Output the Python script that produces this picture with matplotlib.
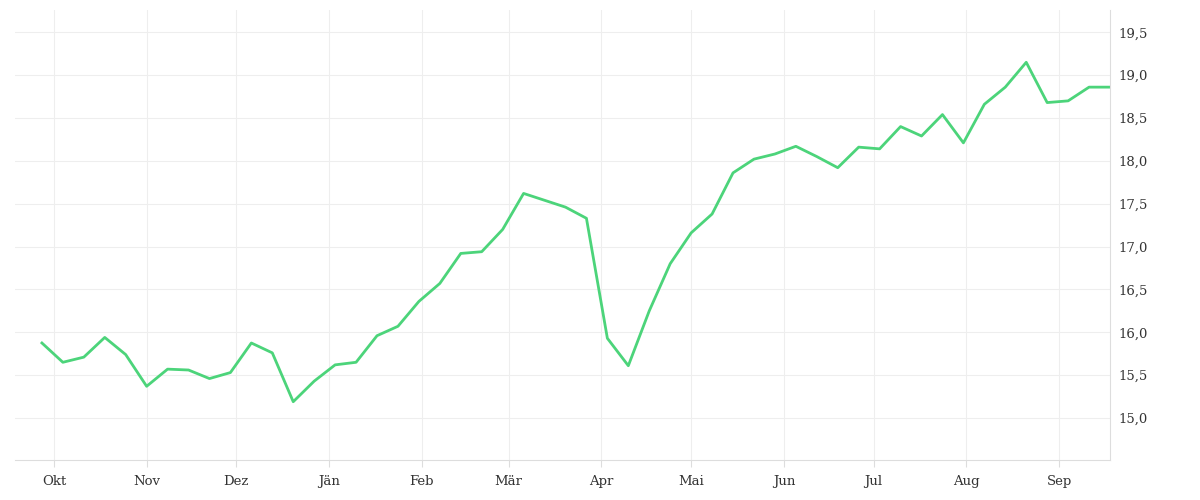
import pandas as pd
import matplotlib.pyplot as plt
import matplotlib.dates as mdates
import matplotlib.ticker as mticker

values = [15.875, 15.65, 15.71, 15.94, 15.74, 15.37, 15.57, 15.56, 15.46, 15.53,
          15.875, 15.76, 15.19, 15.43, 15.62, 15.65, 15.96, 16.07, 16.36, 16.57,
          16.92, 16.94, 17.20, 17.62, 17.54, 17.46, 17.33, 15.93, 15.61, 16.25,
          16.80, 17.16, 17.38, 17.86, 18.02, 18.08, 18.17, 18.05, 17.92, 18.16,
          18.14, 18.40, 18.29, 18.54, 18.21, 18.66, 18.86, 19.15, 18.68, 18.70,
          18.86, 18.86]
dates = pd.date_range("2023-09-27", periods=len(values), freq="7D")
month_labels = ["Okt", "Nov", "Dez", "Jän", "Feb", "Mär", "Apr", "Mai", "Jun", "Jul", "Aug", "Sep"]
month_ticks = pd.date_range("2023-10-01", periods=12, freq="MS")

plt.rcParams['font.family'] = ['DejaVu Serif']
fig, ax = plt.subplots(figsize=(12, 5), dpi=100)
fig.subplots_adjust(left=0.0125, right=0.925, top=0.98, bottom=0.08)

ax.plot(dates, values, color="#4cd47a", linewidth=2)

ax.set_xlim(pd.Timestamp("2023-09-18"), dates[-1])
ax.set_ylim(14.51, 19.76)
ax.set_xticks(month_ticks)
ax.set_xticklabels(month_labels)
ax.set_yticks([15.0, 15.5, 16.0, 16.5, 17.0, 17.5, 18.0, 18.5, 19.0, 19.5])
ax.yaxis.set_major_formatter(mticker.FuncFormatter(lambda v, p: f"{v:.1f}".replace(".", ",")))
ax.yaxis.tick_right()
ax.tick_params(colors="#333333", labelsize=9.5, length=0, pad=6)
ax.tick_params(axis="x", length=5, color="#dddddd")
ax.grid(True, color="#eeeeee", linewidth=0.8)
for s in ["top", "left"]:
    ax.spines[s].set_visible(False)
ax.spines["bottom"].set_color("#dddddd")
ax.spines["right"].set_color("#dddddd")

plt.savefig("out.png")
